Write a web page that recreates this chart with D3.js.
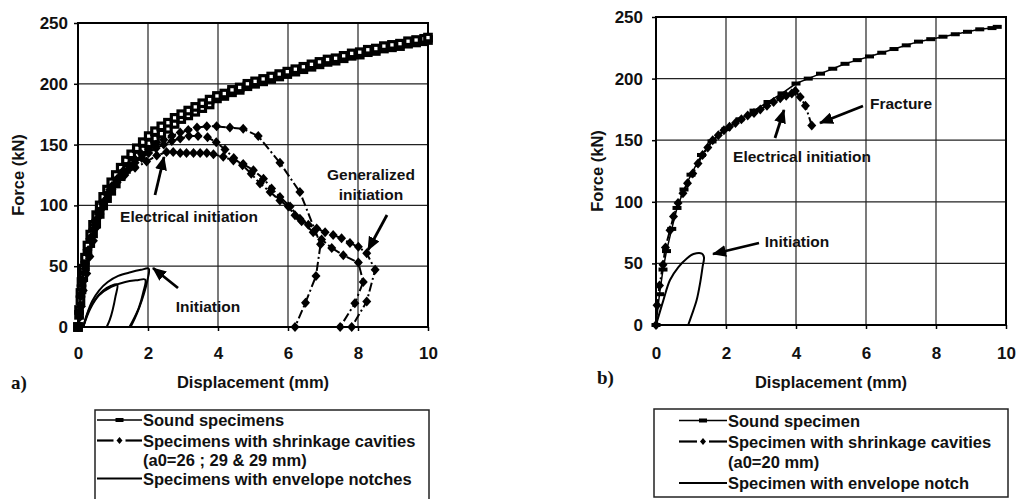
<!DOCTYPE html>
<html><head><meta charset="utf-8">
<script src="https://cdn.jsdelivr.net/npm/d3@7"></script>
<style>
body{margin:0;background:#fff}
svg text{font-family:"Liberation Sans",Arial,sans-serif;font-weight:bold;fill:#111}
</style>
</head><body>
<svg id="c" width="1018" height="499"></svg>
<script>
// ---------- tick labels ----------
const xTicks = [0, 2, 4, 6, 8, 10];
const yTicks = [0, 50, 100, 150, 200, 250];

// ---------- panel a) : sound specimens (two curves) ----------
const soundX = [0,0.03,0.07,0.1,0.15,0.2,0.27,0.35,0.43,0.52,0.62,0.72,0.83,0.95,1.08,1.22,1.37,1.52,1.68,1.85,2.02,2.2,2.38,2.57,2.76,2.95,3.15,3.35,3.55,3.76,3.97,4.18,4.4,4.62,4.84,5.06,5.29,5.52,5.75,5.98,6.21,6.44,6.67,6.9,7.13,7.36,7.59,7.82,8.05,8.28,8.51,8.74,8.97,9.2,9.43,9.66,9.89,10.0];
const sound1F = [0,14,28,37,48,57,67,76,84,92,100,107,113,119,125,131,137,142,147,152,157,161,165,168,172,175,178,181,184,187,190,192,195,197,200,202,204,206,208,210,212,214,216,218,220,221,223,225,226,228,229,231,232,233,235,236,237,238];
const sound2F = [0,10,22,31,41,50,60,69,77,85,93,100,106,112,118,124,130,135,141,146,151,155,159,163,167,171,174,177,180,183,188,190,193,195,198,200,202,204,206,208,210,212,214,216,218,219,221,223,224,226,227,229,230,231,233,234,235,236];

// ---------- panel a) : shrinkage cavities (three specimens) ----------
const cavAX = [0,0.03,0.08,0.13,0.2,0.28,0.37,0.47,0.58,0.7,0.83,0.97,1.12,1.28,1.45,1.63,1.82,2.02,2.23,2.45,2.68,2.92,3.15,3.4,3.68,3.96,4.34,4.72,5.15,5.77,6.34,6.93,6.8,6.5,6.2];
const cavAF = [0,13,27,39,51,63,74,84,93,101,109,116,122,128,133,138,142,146,150,154,157,160,162,164,165,165,164,163,157,135,111,68,42,20,0];
const cavBX = [0,0.03,0.08,0.13,0.2,0.28,0.37,0.47,0.58,0.7,0.83,0.97,1.12,1.28,1.45,1.63,1.82,2.02,2.23,2.45,2.68,2.92,3.17,3.43,3.7,3.95,4.2,4.45,4.7,4.95,5.2,5.49,5.77,6.01,6.2,6.39,6.72,6.96,7.25,7.58,8.01,8.15,7.91,7.49];
const cavBF = [0,12,25,37,48,60,71,81,90,98,106,113,119,125,130,135,139,143,147,150,153,155,157,157,156,152,146,139,133,126,118,111,104,99,92,87,78,72,65,59,53,37,19.5,0];
const cavCX = [0,0.05,0.1,0.15,0.25,0.34,0.44,0.53,0.63,0.77,0.91,1.1,1.34,1.63,1.96,2.25,2.53,2.72,2.92,3.1,3.3,3.49,3.68,3.87,4.15,4.44,4.72,5.01,5.3,5.53,5.77,6.06,6.34,6.58,6.82,7.06,7.29,7.53,7.77,8.01,8.25,8.49,8.25,7.82];
const cavCF = [0,8,17,30,44,58,71,82,93,104,113,120,125,131,136,141,144,144,143,143,143,143,143,142,140,137,134,129,122,114,107,99,89,84,81,78,75.6,73,69,66,60.6,47,21,0];

// ---------- panel a) : envelope notches (three specimens) ----------
const notch1X = [0.15,0.3,0.5,0.72,0.95,1.12,1.07,0.99,0.91,0.82];
const notch1F = [0,13,23,30,34,35,25,14,6,0];
const notch2X = [0.15,0.35,0.6,0.95,1.35,1.7,1.92,1.86,1.74,1.6,1.47];
const notch2F = [0,15,26,33,37,38.5,39,28,16,7,0];
const notch3X = [0.15,0.25,0.4,0.6,0.85,1.15,1.5,1.8,2.02,1.98,1.88,1.75,1.62,1.5];
const notch3F = [0,10,21,30,37,42,45,47,48,38,27,16,7,0];

// ---------- panel b) ----------
const soundRX = [0,0.1,0.2,0.3,0.45,0.6,0.8,1.0,1.3,1.6,2.0,2.4,2.8,3.2,3.6,4.0,4.35,4.7,5.05,5.4,5.75,6.1,6.45,6.8,7.15,7.5,7.85,8.2,8.55,8.9,9.25,9.6,9.75];
const soundRF = [0,25,45,60,78,95,110,122,138,149,159,167,174,181,188,196,200,204,208,212,215,218,221,224,227,230,232,234,236,238,240,241,242];
const cavRX = [0,0.03,0.1,0.2,0.27,0.4,0.5,0.63,0.77,0.9,1.05,1.2,1.33,1.48,1.62,1.78,1.94,2.1,2.27,2.44,2.62,2.8,2.98,3.17,3.36,3.55,3.72,3.88,3.98,4.12,4.27,4.45];
const cavRF = [0,16,32,49,63,77,88,99,107,115,123,131,138,144,150,154,158,161,164,167,170,172,175,178,181,184,186,188,190,185,178,162];
const notchRX = [0,0.21,0.4,0.64,0.88,1.07,1.31,1.37,1.33,1.26,1.16,1.02,0.92];
const notchRF = [0,20,36.5,47,54,57.6,58,55,47,34,20,8,0];

// ---------- legends ----------
const legendA = ["Sound specimens","Specimens with shrinkage cavities","(a0=26 ; 29 & 29 mm)","Specimens with envelope notches"];
const legendB = ["Sound specimen","Specimen with shrinkage cavities","(a0=20 mm)","Specimen with envelope notch"];

const svg = d3.select("#c");
const defs = svg.append("defs");
defs.append("marker").attr("id","ah").attr("viewBox","0 0 14 12").attr("refX",13).attr("refY",6)
  .attr("markerWidth",14).attr("markerHeight",12).attr("markerUnits","userSpaceOnUse").attr("orient","auto")
  .append("path").attr("d","M0,0L14,6L0,12Z").attr("fill","#000");

const diamond = "M0,-5L4.5,0L0,5L-4.5,0Z";

function panel(p){
  const x = d3.scaleLinear().domain([0,10]).range([p.left,p.right]);
  const y = d3.scaleLinear().domain([0,250]).range([p.bottom,p.top]);
  const g = svg.append("g");
  g.append("g").selectAll("line").data(xTicks.slice(1,-1)).join("line")
    .attr("x1",d=>x(d)).attr("x2",d=>x(d)).attr("y1",y(0)).attr("y2",y(250))
    .attr("stroke","#222").attr("stroke-width",1.2);
  g.append("g").selectAll("line").data(yTicks.slice(1,-1)).join("line")
    .attr("y1",d=>y(d)).attr("y2",d=>y(d)).attr("x1",x(0)).attr("x2",x(10))
    .attr("stroke","#222").attr("stroke-width",1.2);
  g.append("rect").attr("x",x(0)).attr("y",y(250)).attr("width",x(10)-x(0)).attr("height",y(0)-y(250))
    .attr("fill","none").attr("stroke","#000").attr("stroke-width",2);

  const styleAxis = s => {
    s.select(".domain").remove();
    s.attr("font-family",null).attr("font-size",null);
    s.selectAll("line").attr("stroke","#000").attr("stroke-width",1.5);
    s.selectAll("text").attr("font-size",17).attr("fill","#111");
  };
  g.append("g").attr("transform",`translate(0,${y(0)})`)
    .call(d3.axisBottom(x).tickValues(xTicks).tickSize(4).tickPadding(p.xPad).tickFormat(d3.format("d")))
    .call(styleAxis);
  g.append("g").attr("transform",`translate(${x(0)},0)`)
    .call(d3.axisLeft(y).tickValues(yTicks).tickSize(4).tickPadding(p.yPad).tickFormat(d3.format("d")))
    .call(styleAxis);

  g.append("text").attr("transform",`translate(${p.yLabX},${(y(0)+y(250))/2}) rotate(-90)`)
    .attr("text-anchor","middle").attr("dy","0.35em").attr("font-size",16.5).text("Force (kN)");
  g.append("text").attr("x",(x(0)+x(10))/2).attr("y",p.xLabY).attr("text-anchor","middle")
    .attr("font-size",16.5).text("Displacement (mm)");
  g.append("text").attr("x",p.tagX).attr("y",p.tagY).attr("font-size",19)
    .style("font-family","'Liberation Serif','Times New Roman',serif").text(p.tag);
  return {g,x,y};
}

function drawSeries(ctx, X, F, kind, opt={}){
  const {g,x,y} = ctx;
  const pts = d3.zip(X,F);
  const line = d3.line().x(d=>x(d[0])).y(d=>y(d[1]));
  if(kind==="notch"){
    line.curve(d3.curveCatmullRom.alpha(0.5));
    g.append("path").attr("d",line(pts)).attr("fill","none").attr("stroke","#000").attr("stroke-width",2);
  } else if(kind==="cav"){
    g.append("path").attr("d",line(pts)).attr("fill","none").attr("stroke","#000")
      .attr("stroke-width",2).attr("stroke-dasharray","9,3,2,3");
    g.append("g").selectAll("path").data(pts).join("path")
      .attr("transform",d=>`translate(${x(d[0])},${y(d[1])})`).attr("d",diamond).attr("fill","#000");
  } else if(kind==="soundOpen"){
    g.append("path").attr("d",line(pts)).attr("fill","none").attr("stroke","#000").attr("stroke-width",1.5);
    g.append("g").selectAll("rect").data(pts).join("rect")
      .attr("x",d=>x(d[0])-3.25).attr("y",d=>y(d[1])-3.25).attr("width",6.5).attr("height",6.5)
      .attr("fill","#fff").attr("stroke","#000").attr("stroke-width",3.2);
  } else {
    g.append("path").attr("d",line(pts)).attr("fill","none").attr("stroke","#000").attr("stroke-width",1.5);
    const w = opt.w||8, h = opt.h||4;
    g.append("g").selectAll("rect").data(pts).join("rect")
      .attr("x",d=>x(d[0])-w/2).attr("y",d=>y(d[1])-h/2).attr("width",w).attr("height",h)
      .attr("fill","#000");
  }
}

function arrow(g, x1,y1,x2,y2){
  g.append("line").attr("x1",x1).attr("y1",y1).attr("x2",x2).attr("y2",y2)
    .attr("stroke","#000").attr("stroke-width",2.8).attr("marker-end","url(#ah)");
}
function label(g, txt, cx, by){
  g.append("text").attr("x",cx).attr("y",by).attr("text-anchor","middle").attr("font-size",15.5).text(txt);
}

function legend(items, bx, by, bw, bh, sx0, sx1, tx, rows){
  const g = svg.append("g");
  g.append("rect").attr("x",bx).attr("y",by).attr("width",bw).attr("height",bh)
    .attr("fill","#fff").attr("stroke","#222").attr("stroke-width",1.5);
  const sm = (sx0+sx1)/2;
  items.forEach((t,i)=>{
    g.append("text").attr("x",tx).attr("y",rows[i]).attr("font-size",16.5).text(t);
  });
  const cy = i => rows[i]-6;
  g.append("line").attr("x1",sx0).attr("x2",sx1).attr("y1",cy(0)).attr("y2",cy(0)).attr("stroke","#000").attr("stroke-width",1.3);
  g.append("rect").attr("x",sm-4).attr("y",cy(0)-2).attr("width",8).attr("height",4).attr("fill","#000");
  g.append("line").attr("x1",sx0).attr("x2",sm-6).attr("y1",cy(1)).attr("y2",cy(1)).attr("stroke","#000").attr("stroke-width",2.2);
  g.append("line").attr("x1",sm+6).attr("x2",sx1).attr("y1",cy(1)).attr("y2",cy(1)).attr("stroke","#000").attr("stroke-width",2.2);
  g.append("path").attr("transform",`translate(${sm},${cy(1)})`).attr("d","M0,-3.5L3,0L0,3.5L-3,0Z").attr("fill","#000");
  g.append("line").attr("x1",sx0).attr("x2",sx1).attr("y1",cy(3)).attr("y2",cy(3)).attr("stroke","#000").attr("stroke-width",2.2);
}

// ---------- panel a ----------
const A = panel({left:78,right:428,top:23,bottom:327,xPad:16,yPad:6,yLabX:18,xLabY:388,tag:"a)",tagX:11,tagY:389});
drawSeries(A, soundX, sound2F, "soundOpen");
drawSeries(A, soundX, sound1F, "soundOpen");
drawSeries(A, cavAX, cavAF, "cav");
drawSeries(A, cavBX, cavBF, "cav");
drawSeries(A, cavCX, cavCF, "cav");
drawSeries(A, notch1X, notch1F, "notch");
drawSeries(A, notch2X, notch2F, "notch");
drawSeries(A, notch3X, notch3F, "notch");
label(A.g,"Electrical initiation",189,222);
arrow(A.g,155,195,164,157);
label(A.g,"Generalized",371,180);
label(A.g,"initiation",371,200);
arrow(A.g,387,215,368,250);
label(A.g,"Initiation",208,312);
arrow(A.g,178,288,153,268);

// ---------- panel b ----------
const B = panel({left:656,right:1006,top:17,bottom:325,xPad:18,yPad:9,yLabX:597,xLabY:388,tag:"b)",tagX:597,tagY:384});
drawSeries(B, soundRX, soundRF, "sound", {w:9,h:4});
drawSeries(B, cavRX, cavRF, "cav");
drawSeries(B, notchRX, notchRF, "notch");
label(B.g,"Fracture",901,109);
arrow(B.g,863,106,820,123);
label(B.g,"Electrical initiation",802,162);
arrow(B.g,775,138,784,110);
label(B.g,"Initiation",797,247);
arrow(B.g,759,243,713,254);

// ---------- legends ----------
legend(legendA, 95, 410, 334, 100, 97, 142, 143, [426,446.5,465.5,484.5]);
legend(legendB, 654, 409, 354, 88, 679, 727, 728, [426.5,447.5,468,489]);
</script>
</body></html>
